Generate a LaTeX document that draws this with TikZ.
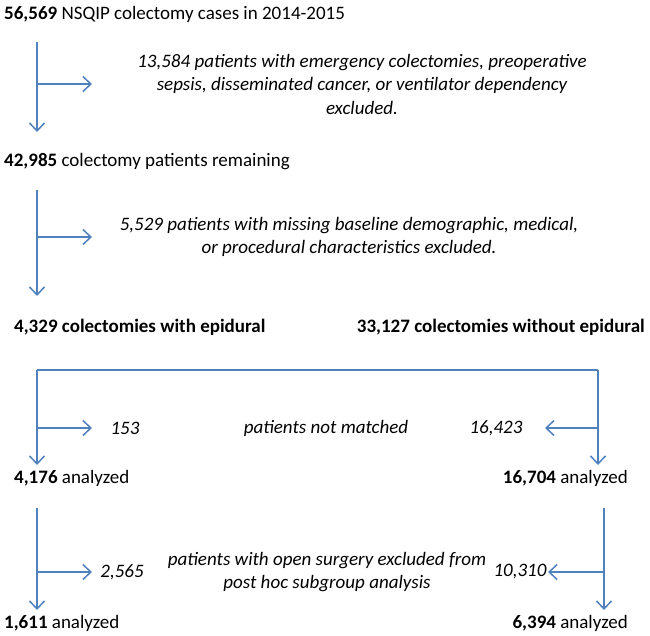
\documentclass[tikz,border=0pt]{standalone}
\usepackage{fontspec}
\setmainfont{Carlito}
\usetikzlibrary{arrows.meta,positioning}
\definecolor{akisMavi}{HTML}{4F81BD}

\begin{document}
\begin{tikzpicture}[x=1pt,y=-1pt,
  lbl/.style={inner sep=0pt,font=\fontsize{19}{22}\selectfont},
  note/.style={inner sep=0pt,align=center,font=\fontsize{19}{23.5}\selectfont\itshape},
  akis/.style={akisMavi,line width=1.5pt,-{Straight Barb[length=8pt,width=15pt]}},
  hat/.style={akisMavi,line width=1.5pt}]
\useasboundingbox (0,0) rectangle (650,635);
% kutusuz metinler
\node[lbl,anchor=west] (top) at (4,14) {\textbf{56,569} NSQIP colectomy cases in 2014-2015};
\node[note] (exc1) at (362,84) {13,584 patients with emergency colectomies, preoperative\\sepsis, disseminated cancer, or ventilator dependency\\excluded.};
\node[lbl,anchor=west] (rem) at (4,162) {\textbf{42,985} colectomy patients remaining};
\node[note] (exc2) at (349,237) {5,529 patients with missing baseline demographic, medical,\\or procedural characteristics excluded.};
\node[lbl,anchor=west,font=\fontsize{19}{22}\selectfont\bfseries] (epi) at (14,327) {4,329 colectomies with epidural};
\node[lbl,anchor=east,font=\fontsize{19}{22}\selectfont\bfseries] (noepi) at (645,327) {33,127 colectomies without epidural};
\node[note] (nm) at (326,428) {patients not matched};
\node[note] (nmL) at (125,428) {153};
\node[note] (nmR) at (496,428) {16,423};
\node[lbl,anchor=west] (anL) at (14,478) {\textbf{4,176} analyzed};
\node[lbl,anchor=east] (anR) at (628,478) {\textbf{16,704} analyzed};
\node[note] (op) at (327,572) {patients with open surgery excluded from\\post hoc subgroup analysis};
\node[note] (opL) at (122,572) {2,565};
\node[note] (opR) at (520,572) {10,310};
\node[lbl,anchor=west] (subL) at (4,623) {\textbf{1,611} analyzed};
\node[lbl,anchor=east] (subR) at (628,623) {\textbf{6,394} analyzed};
% oklar
\coordinate (c1) at (37,42);   \coordinate (e1) at (37,132);
\coordinate (c2) at (37,190);  \coordinate (e2) at (37,296);
\coordinate (c3) at (37,370);  \coordinate (e3) at (37,465);
\coordinate (c4) at (598,370); \coordinate (e4) at (598,465);
\coordinate (c5) at (37,508);  \coordinate (e5) at (37,610);
\coordinate (c6) at (604,508); \coordinate (e6) at (604,610);
\draw[akis] (c1) -- (e1);
\draw[akis] (c1 |- exc1) -- +(55,0);
\draw[akis] (c2) -- (e2);
\draw[akis] (c2 |- exc2) -- +(55,0);
\draw[hat] (c3) -- (c4);
\draw[akis] (c3) -- (e3);
\draw[akis] (c4) -- (e4);
\draw[akis] (c3 |- nm) -- +(55,0);
\draw[akis] (c4 |- nm) -- +(-53,0);
\draw[akis] (c5) -- (e5);
\draw[akis] (c6) -- (e6);
\draw[akis] (c5 |- op) -- +(55,0);
\draw[akis] (c6 |- op) -- +(-56,0);
\end{tikzpicture}
\end{document}
